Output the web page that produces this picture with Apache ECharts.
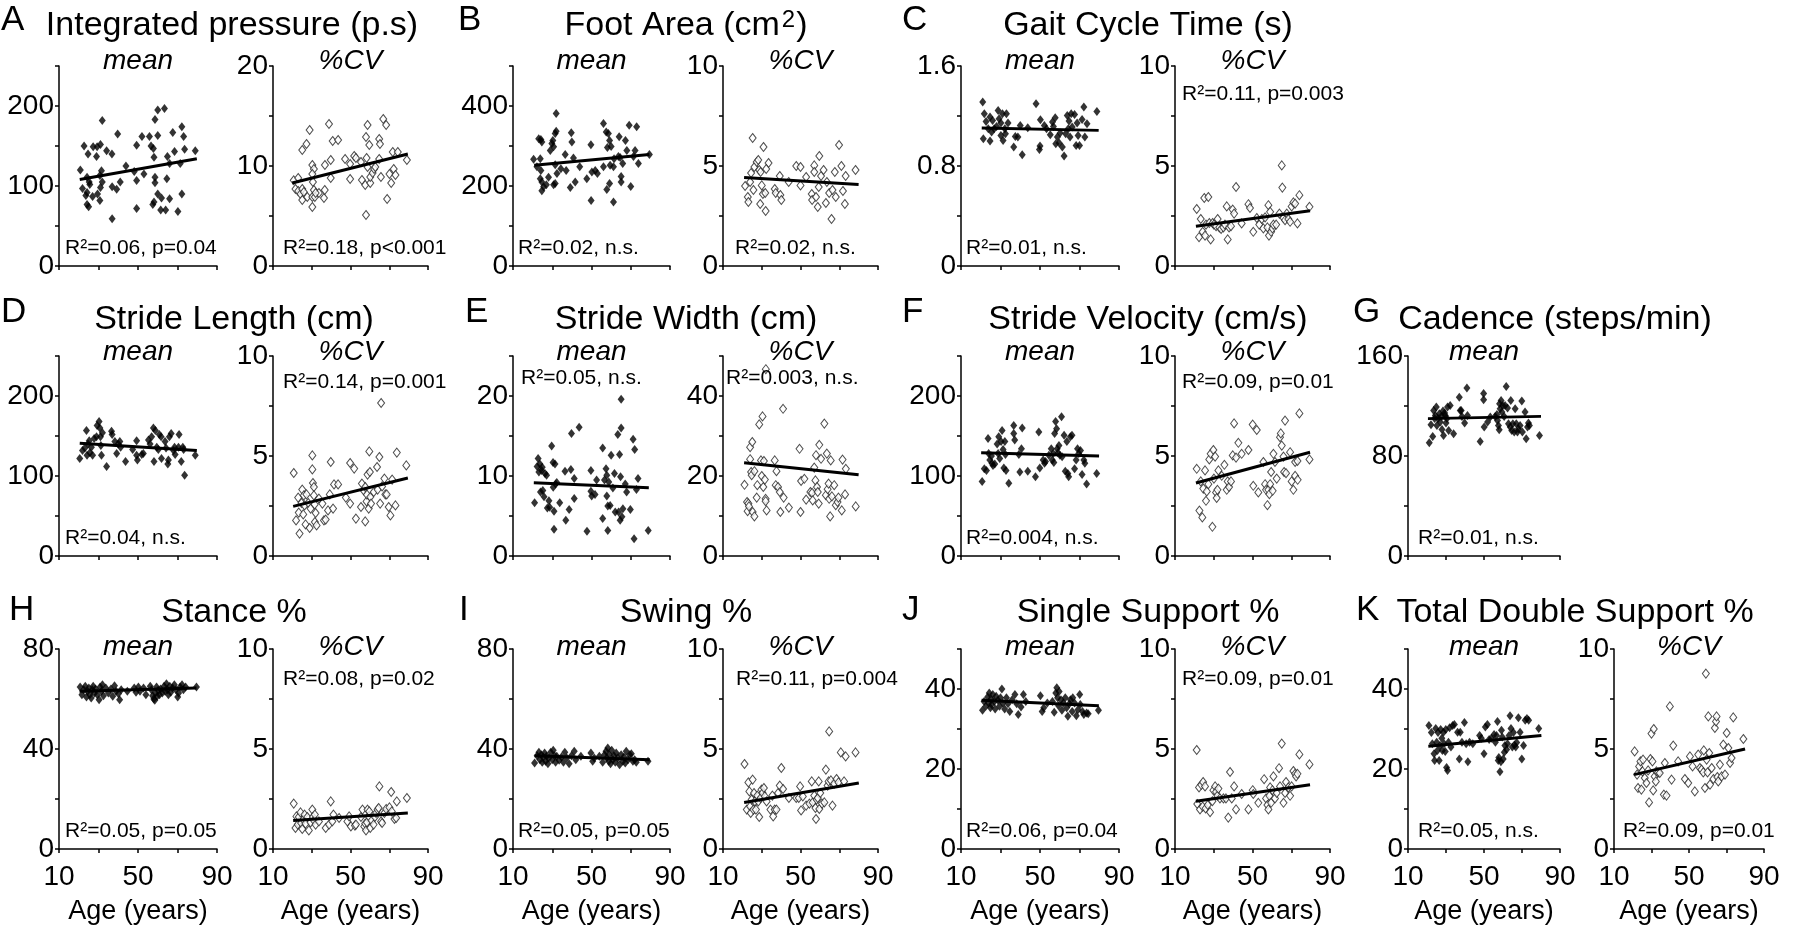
<!DOCTYPE html>
<html>
<head>
<meta charset="utf-8">
<script src="https://cdn.jsdelivr.net/npm/echarts@6/dist/echarts.min.js"></script>
<style>
html,body{margin:0;padding:0;background:#fff;}
#chart{width:1800px;height:939px;}
</style>
</head>
<body>
<div id="chart"></div>
<script>
// ---------------- DATA (age in years, value) ----------------
const xTickLabels = [10, 50, 90];

const A_mean = [[20.8,120],[22.7,150],[24.7,140],[27.3,149],[29.3,149],[31,152],[29,137],[31.9,182],[34.1,144],[36.8,140],[39.7,165],[31.5,119],[30.7,113],[24.2,111],[25.3,105],[21.9,97],[24.2,92],[25.6,102],[23.6,88],[27,87],[29.5,90],[31,98],[31.9,105],[24.2,77],[25,74],[30.7,82],[36.9,99],[39.2,96],[41,105],[36.9,59],[43.9,125],[48.1,118],[49.3,151],[49.3,107],[52,162],[53,115],[49.3,72],[55.8,162],[56.6,150],[57.8,147],[58.6,183],[60,195],[63.4,197],[60,163],[58.1,136],[58.6,111],[58.6,104],[60,90],[58.1,80],[57.5,77],[61.9,85],[61.5,70],[64,70],[64.6,109],[64.9,137],[66,128],[66,84],[67.6,167],[68.5,143],[70.2,68],[71.4,128],[72.2,174],[73.1,162],[72.2,90],[73.6,146],[79,144]];
const A_mean_fit = [[20.5,108],[79.8,134]];
const A_cv = [[20.7,8.57],[23,8.8],[21.6,7.7],[23,7.5],[24.2,7.2],[25.1,7.7],[25.9,7.4],[25.1,6.6],[27.7,6.9],[25.1,11.6],[27.3,12.2],[28.9,13.6],[30.3,10.1],[31.1,9.7],[30.3,9.2],[30.6,8.4],[31.1,7.6],[30.3,6.9],[31.6,6.9],[30.3,5.9],[33.7,7.3],[32,7.3],[36.3,6.8],[36.7,7.6],[36.8,10.1],[39.8,10.6],[39.8,8.8],[38.9,14.2],[40.8,12.5],[43.6,12.6],[47.2,10.7],[49.8,10.2],[49.8,8.7],[51.9,11],[52.8,10.8],[55.4,10.4],[55.9,8.6],[57.6,8.1],[58,12.9],[58.8,14.1],[58.3,10.8],[58.8,9.9],[59.7,12.1],[60.2,8.3],[58,5.1],[60.2,8.9],[61.4,9.3],[62.2,9.7],[62.8,9.9],[64.8,12.7],[65.2,12.2],[64.8,10.7],[65.7,8.9],[66.9,14.7],[68.4,14.1],[68.9,6.7],[70.1,9.2],[71,8.3],[71.8,11.4],[72.3,9.7],[73.2,9.1],[74.4,11.4],[79.1,10.6]];
const A_cv_fit = [[19.9,8.3],[79.6,11.2]];

const B_mean = [[20.5,267],[22.2,248],[23.1,318],[24.2,316],[24.7,310],[23.9,268],[24.2,239],[23.9,218],[24.7,210],[25.6,198],[24.7,188],[27,203],[28.1,222],[29,289],[29.8,306],[30.3,314],[30.7,298],[31.5,331],[32,337],[32,381],[31.5,206],[30.7,203],[31.5,253],[32.4,231],[34.4,243],[36.6,279],[37.1,239],[39.2,196],[39.7,333],[40,310],[40.8,270],[41.7,210],[44,248],[47.6,218],[49.7,303],[50.2,235],[51.9,239],[49.8,164],[53,231],[56.1,248],[56.1,356],[57.5,335],[58.6,331],[58.1,296],[59.2,314],[60,299],[57.8,191],[59.2,206],[59.5,252],[61.2,248],[61.5,268],[61.2,160],[63.7,274],[64.1,323],[64.6,271],[65.1,224],[65.1,210],[65.9,256],[67.3,314],[68,289],[69.2,352],[70,199],[71.4,274],[72.2,289],[73,348],[73.9,256],[79.5,279]];
const B_mean_fit = [[20.8,252],[79.5,279]];
const B_cv = [[21.4,4],[22.8,3.45],[23.1,3.2],[24,4.2],[24.5,4.65],[25.3,6.4],[25.7,3.8],[26.2,4.95],[27.4,5.2],[28.2,5.3],[28.7,4.8],[29.4,4.7],[29.2,3.1],[30,4.03],[30.6,3.6],[30.9,5.95],[31.8,3.65],[32,2.75],[33.5,5.15],[32.3,4.85],[36.7,3.85],[37.2,3.65],[39.3,4.5],[39.6,3.55],[40.1,3.3],[43.9,4.2],[47.8,5],[50,4.95],[50,4.03],[52.9,4.45],[55.8,3.6],[56,3.3],[57.1,5.03],[57.1,4.7],[58,3.45],[58.9,2.95],[59.4,3.95],[59.7,5.5],[60.6,4.5],[61.9,4.8],[63.1,3.15],[63.6,4.2],[64.8,3.65],[66,2.35],[66.5,3.8],[68.2,3.45],[67.7,4.7],[69.9,6.05],[71.1,5],[71.9,3.75],[72.9,3.1],[73.3,4.5],[78.4,4.8]];
const B_cv_fit = [[20.9,4.42],[80,4.07]];

const C_mean = [[21,1.312],[21.8,1.219],[21.3,1.019],[22.7,1.157],[23.8,1.099],[24.7,1.0],[24.7,1.192],[25.5,1.072],[26,1.165],[26.8,1.099],[28,1.117],[28.8,1.245],[29.3,1.179],[30.2,1.144],[30.2,1.045],[31,1.219],[31.3,1.005],[32.2,1.099],[32.5,1.059],[33,1.219],[33.8,1.144],[36.7,0.952],[37.5,1.037],[38.8,1.032],[40,1.125],[41,0.891],[43.8,1.107],[48,1.299],[49.7,0.933],[50.2,1.171],[50,0.96],[52.2,1.125],[53.3,1.099],[55.2,1.051],[56.3,1.152],[56.8,1.117],[57.7,1.187],[58,0.979],[58.8,1.032],[59.7,0.984],[60.2,1.064],[61.3,0.952],[62.2,0.88],[63,1.059],[63.8,1.205],[64.3,1.099],[64.7,1.16],[65.2,1.032],[65.8,1.219],[66.3,1.112],[67.5,1.213],[68.3,0.965],[68.8,1.144],[69.3,1.045],[70,0.965],[71.3,1.173],[72.2,1.272],[72.7,1.032],[73.8,1.139],[78.8,1.237]];
const C_mean_fit = [[20.5,1.104],[79.7,1.085]];
const C_cv = [[21.2,2.85],[22.4,1.44],[23.3,2.35],[24.3,1.71],[25.1,3.4],[25.5,1.52],[26,2.07],[27.2,3.45],[27.7,2.15],[28.4,1.33],[29.4,2.15],[30.1,2.07],[31.2,1.99],[32,2.35],[32.9,1.93],[33.8,1.85],[35,1.93],[35.8,2.07],[36.7,2.98],[37.2,1.33],[37.9,1.93],[38.9,1.99],[39.8,2.82],[40.5,2.62],[41.5,3.95],[44.4,2.13],[47.9,3.09],[48.7,2.9],[50.4,1.71],[52.2,2.4],[53.5,2.07],[54.8,2.35],[55.6,1.88],[56.5,2.43],[57.7,1.93],[58.2,3.04],[58.5,1.52],[59.1,2.71],[59.6,1.71],[60.3,1.88],[60.8,2.07],[62.2,2.07],[63.9,2.62],[65.1,5.03],[65.4,3.92],[66,2.4],[66.8,2.29],[67.7,2.62],[68.5,2.35],[69.4,2.21],[70.2,2.98],[71.1,3.18],[72,3.12],[73.2,2.13],[74.2,3.54],[79.4,2.96]];
const C_cv_fit = [[20.8,1.99],[79.7,2.76]];

const D_mean = [[20.5,122],[21.9,132],[23.1,135],[23.9,157],[24.2,126],[24.7,140],[25.3,144],[25.6,129],[26.4,136],[27,126],[27.8,147],[29,149],[29.3,163],[30.3,168],[30.7,160],[31,149],[31.2,138],[31.5,126],[32,154],[34.1,112],[36.6,156],[36.9,152],[38.3,143],[39.2,128],[40,140],[40.8,143],[41.2,136],[43.7,118],[47.3,133],[49.3,144],[49.3,126],[49.7,120],[51.9,127],[52.7,128],[55.3,145],[56.1,140],[56.9,149],[57.8,160],[58.1,118],[58.8,157],[59.5,136],[60.3,133],[60.8,152],[61.7,149],[61.9,122],[63.7,143],[64.2,135],[65.1,115],[65.4,120],[65.9,149],[66.8,153],[68,132],[68.5,136],[68.8,127],[70.5,136],[70.8,152],[71.9,118],[72.7,136],[73.1,133],[73.6,101],[79,126]];
const D_mean_fit = [[20.5,141],[79.8,132]];
const D_cv = [[20.7,4.15],[21.9,1.78],[23,2.92],[23.3,2.17],[23.7,1.12],[24.7,2.65],[25.1,3.32],[25.6,2.08],[25.9,3.03],[26.3,2.53],[26.8,1.58],[27.3,3.08],[28.2,2.65],[28.9,1.4],[29.4,2.37],[30.3,5.03],[30.3,4.33],[30.6,3.65],[31.1,3.45],[31.1,3.03],[31.5,2.58],[31.6,1.7],[32,2.15],[32.5,1.53],[33.7,2.87],[35.5,2.62],[36.3,1.78],[37.2,1.82],[38.4,2.28],[39.3,3.08],[39.8,4.7],[41,2.37],[41.5,3.58],[43.6,3.58],[47.6,2.92],[49.8,2.62],[49.8,4.65],[51.9,4.37],[52.8,1.87],[55.4,2.45],[55.9,3.62],[56.8,3.28],[57.6,1.73],[57.6,3.45],[58.3,2.73],[58.5,3.07],[58.8,4.07],[59.4,2.37],[59.7,5.23],[60,4.2],[60.2,2.95],[60.6,2.62],[62,3.2],[63.7,4.45],[64,3.32],[64.9,4.95],[65.3,2.62],[65.8,7.65],[66.3,3.48],[67.5,3.87],[68,3.08],[68.7,3.08],[69.7,2.45],[70.6,2.03],[71.5,3.82],[73.2,2.53],[73.9,5.17],[78.8,4.53]];
const D_cv_fit = [[20.4,2.48],[79.6,3.9]];

const E_mean = [[21,6.67],[22.3,11.2],[22.8,12.2],[23.2,10.5],[23.7,11.5],[24,8],[24.6,10.7],[24.9,11.1],[25.2,8.2],[25.8,7.4],[26.3,10.3],[27.1,10.1],[27.5,6.0],[28.3,6.9],[28.7,6.1],[29.7,13.75],[30.4,11.7],[30.5,8.6],[30.9,5.6],[30.9,3.33],[31.4,11.5],[31.7,9],[32.3,9.2],[33.8,6.67],[36.5,10.6],[36.9,4.46],[38.6,5.8],[39.5,10.8],[39.8,15.3],[41.2,9.7],[41.2,7.2],[43.7,16.1],[47.7,3.1],[49.7,10.7],[49.7,8.1],[50.1,7.5],[51.8,7.7],[52.6,9.5],[55.7,13.5],[55.7,4.7],[56.6,9.5],[57.4,10.9],[57.8,10.1],[57.8,7.5],[58.3,6.25],[58.3,3.2],[58.8,9.25],[59.5,6.3],[60,12.6],[60.9,8.5],[61.7,10.3],[62.1,5.5],[63.4,15.2],[63.8,5.5],[64.3,12.7],[64.6,4.46],[64.8,9.9],[65.1,16],[65.1,19.6],[65.5,4.9],[66,5.9],[67.2,9],[67.9,8],[69.8,5.8],[71.2,14.6],[71.7,2.17],[72,13.3],[72.9,8.3],[73.7,9.7],[78.9,3.2]];
const E_mean_fit = [[20.6,9.17],[79.2,8.54]];
const E_cv = [[21.1,17.8],[22.4,13.5],[22.7,11.2],[23.1,13.1],[23.4,12.4],[24,24.2],[24,27.2],[24.5,21],[24.8,20.2],[25.1,28.5],[25.3,11],[26.2,9.9],[26.2,21.2],[27.4,14.6],[27.7,17.7],[28.7,32.9],[29.6,23.9],[30,20],[30.4,34.9],[30.8,17.25],[31.1,23.75],[31.6,19.1],[32,14.3],[32,13.7],[32.5,11.4],[32.1,46.7],[36.7,23.9],[37.2,17.7],[37.6,21.2],[38.4,17.25],[39.3,16],[39.6,11],[41,36.8],[41.3,14.6],[44,12.1],[49.5,26.8],[50,11],[50.3,18.75],[52,19.3],[52.9,14.1],[55.1,16],[56,15.8],[56.3,13.9],[57.1,22.1],[57.7,18.9],[58,25.2],[58.5,17.25],[58.9,16],[59.4,13.1],[59.7,27.8],[60.6,24.3],[62.3,33.1],[63.1,15.2],[63.6,25.6],[64,16.7],[64.5,18.1],[64.8,14.3],[65.3,9.9],[65.6,23.9],[66.2,14.9],[67.4,17.7],[68.2,12.7],[69.1,13.5],[69.6,14.6],[71.3,11.4],[71.7,24.1],[73,15.4],[73.4,21.8],[78.5,12.4]];
const E_cv_fit = [[20.9,23.3],[80,20.3]];

const F_mean = [[20.7,93],[21.8,109],[22.9,107],[23.7,147],[24,128],[24.6,120],[25.4,125],[25.7,116],[26.2,113],[27.1,115],[28.3,140],[28.8,128],[29.1,149],[29.6,122],[30.3,143],[30.8,157],[31.3,133],[31.7,110],[32.2,143],[32.5,127],[32.8,107],[34.2,91],[36.7,163],[36.7,153],[37.2,145],[39.3,127],[39.8,105],[40.6,134],[41,160],[43.8,106],[47.7,99],[49.4,155],[49.9,110],[51.6,120],[52.3,116],[52.8,118],[54.5,126],[55.7,134],[56.2,120],[56.7,128],[57,117],[57.4,153],[57.9,168],[58.4,159],[58.7,134],[59.1,129],[59.6,138],[60.1,126],[60.9,174],[61.2,124],[62.2,151],[62.8,106],[63.6,143],[64.1,103],[64.5,99],[65.4,149],[66.2,151],[67.5,109],[68.3,120],[69,134],[69.6,128],[70.5,132],[71.3,102],[72.2,120],[72.7,116],[73.6,90],[78.7,103]];
const F_mean_fit = [[20.2,129],[79.9,125]];
const F_cv = [[21.2,4.36],[22.6,2.27],[24.1,1.93],[23.3,3.73],[24.6,3.37],[25.5,4.28],[26,2.76],[26.4,3.23],[27.2,3.59],[27.7,4.83],[28.4,5.11],[29.3,1.46],[29.8,5.3],[30.1,3.87],[30.7,4.97],[31.2,3.18],[31.5,2.9],[31.9,3.31],[32.4,4.28],[34.1,4.01],[35.5,4.56],[36.7,3.31],[37.2,3.73],[37.9,3.45],[38.9,3.73],[39.8,5.03],[40.5,6.63],[41.5,4.92],[42.7,5.66],[44.4,5.11],[47.9,5.3],[50.1,6.57],[50.4,3.51],[52.2,6.3],[53,3.18],[55.6,4.7],[56.5,3.59],[57,3.31],[57.7,2.54],[58.2,3.31],[58.7,3.09],[59.1,3.59],[59.6,4.2],[60.4,3.26],[60.8,5.11],[61.6,4.7],[62.5,3.87],[64.2,5.94],[64.6,6.13],[65.1,5.52],[66,4.97],[66.3,4.2],[66.8,6.77],[67.3,4.14],[69.4,5.19],[70.2,3.73],[71.1,3.31],[72,4.7],[72,4.01],[73.2,4.75],[73.3,3.81],[74.2,7.13],[79.4,4.83]];
const F_cv_fit = [[20.8,3.65],[79.7,5.19]];

const G_mean = [[21.2,90.7],[22.1,105],[23,95.7],[23.5,116.5],[24,110],[24.4,112.5],[24.9,119.2],[25.2,104.5],[25.8,110],[26.5,113.9],[27,107.2],[27.5,111.7],[27.9,101.3],[28.4,116],[28.7,96.5],[29.3,114.4],[29.6,112.5],[30,106.4],[30.5,110],[30.8,119.2],[31.4,100.5],[32.2,120.5],[34,97.9],[37,127],[37.5,116.5],[38,116.5],[38.4,111.7],[39.8,106.4],[41,134.4],[41.3,112.5],[48,91.7],[49.8,130],[49.8,125],[50.1,103.2],[51.9,107.2],[53.3,111.2],[55.9,111.7],[56.8,113.3],[57.1,108.5],[57.6,104.5],[58,101],[58.2,121.9],[58.5,117.9],[59,124.5],[59.4,115.2],[59.9,120.5],[60.6,111.7],[61.1,120.5],[61.7,135.7],[62.4,118.4],[62.9,105.9],[63.8,103.2],[64.1,124.5],[64.6,100.5],[65.2,105.9],[65.9,99.2],[66.4,117.9],[67,105.9],[67.6,99.2],[68.1,101.9],[69,104.5],[69.9,124],[70.2,99.2],[71.6,115.2],[72.2,93.9],[72.9,103.2],[73.4,106.4],[73.9,104.5],[79.2,96.5]];
const G_mean_fit = [[20.5,109.9],[80,111.7]];

const H_mean = [[20.7,64.8],[21.6,61.7],[22.5,63.7],[23.3,65.1],[23.9,60.8],[24.5,63.1],[25.1,64.4],[25.6,61.7],[26.3,60.4],[26.8,63.7],[27.3,65.1],[28,62.4],[28.5,64],[29.4,61.7],[30.3,59.7],[30.8,64.8],[31.5,63.1],[32,65.7],[32.5,61.3],[33.7,64.4],[35,62.4],[36.3,64],[37.2,61.1],[38.1,65.3],[38.9,63.1],[40.1,62.1],[40.7,59.7],[41.5,63.7],[44.6,63.1],[48.1,64.4],[49,62.7],[50.2,64.8],[51,63.1],[52.8,64.4],[54,61.7],[56.2,65.1],[56.8,63.7],[57.4,61.3],[58,60],[58.5,59.5],[58.8,62.4],[59.4,64.8],[59.7,61.1],[60.2,63.5],[60.9,61.7],[61.4,64],[62.3,62.4],[63.2,65.1],[63.7,63.1],[64.4,66.1],[64.9,63.7],[65.4,61.7],[66.1,65.1],[66.6,62.7],[67.5,64.4],[68.4,65.7],[69.2,63.7],[70.1,60.8],[70.6,62.4],[71.3,64.8],[72.3,65.7],[73,63.7],[74.1,64.8],[79.6,64.8]];
const H_mean_fit = [[20.4,63.1],[79.6,64.4]];
const H_cv = [[20.7,2.27],[21.6,1.05],[22.1,1.63],[22.8,1.22],[23.3,1.6],[24.2,1.83],[24.5,1.3],[25.1,1.0],[25.6,1.47],[26.3,1.72],[26.8,1.27],[27.7,1.6],[28.5,0.93],[29.4,1.33],[30.3,1.97],[30.6,1.6],[31.1,1.43],[31.6,1.72],[32,1.22],[33.7,1.38],[37.2,1.05],[38.9,1.22],[39.8,2.38],[40.6,1.38],[41.2,1.72],[44.1,1.55],[48.4,1.38],[49.3,1.63],[50.2,1.13],[52.3,1.17],[52.8,1.22],[55.4,1.6],[56.2,1.97],[57.1,1.13],[57.6,1.27],[58,0.93],[58.5,1.33],[58.8,1.97],[59.4,1.63],[59.7,1.88],[60.2,1.05],[60.9,1.43],[61.9,1.22],[62.6,1.6],[63.2,1.8],[64,1.97],[64.5,2.05],[64.9,3.13],[65.8,1.38],[66.3,1.3],[67.5,1.8],[68.4,2],[70.1,2.08],[71,2.85],[71.3,1.88],[72.7,1.5],[73.6,1.55],[73.9,2.38],[79.1,2.55]];
const H_cv_fit = [[20.4,1.43],[79.6,1.8]];

const I_mean = [[21,34.4],[22.3,37.3],[23.2,38.7],[23.7,35.7],[24.4,37.7],[24.9,34.7],[25.4,36.8],[26.1,38.4],[26.6,35.1],[27.1,37.1],[27.8,34.1],[28.3,36.4],[29.2,38.7],[30,35.7],[30.5,39.5],[31.2,37.3],[31.7,34.7],[32.3,37.1],[33.5,35.5],[34.7,36.8],[35.7,34.7],[36.4,38.7],[37.4,36.4],[38.6,34.1],[39.8,37.3],[41.2,39.1],[42,35.7],[44.6,37.1],[49.7,38.4],[50.6,35.1],[51.4,36.4],[54,37.1],[55.7,34.7],[56.6,37.7],[57.4,39.1],[57.8,36.4],[58.3,40.4],[58.8,35.1],[59.1,37.7],[59.7,34.1],[60.3,39.5],[60.9,35.7],[61.4,37.3],[62.1,34.7],[62.6,38.4],[63.4,36.4],[64.3,33.7],[65.1,37.7],[66,35.1],[66.5,36.8],[67.2,34.4],[67.7,39.1],[68.6,35.7],[69.5,37.7],[70.3,38.1],[71.1,35.1],[72,35.7],[72.8,34.7],[78.8,35.1]];
const I_mean_fit = [[21,37.3],[79.7,35.7]];
const I_cv = [[21.1,4.25],[22.3,1.97],[23.1,3.33],[23.6,2.88],[24,2.13],[24.3,1.8],[24.8,2.47],[25.3,3.47],[25.7,1.97],[26,2.8],[26.5,2.38],[27,1.97],[27.7,2.67],[28.2,2.38],[28.7,1.6],[29.4,2.55],[29.9,2.97],[30.4,2.8],[31.1,3.05],[31.6,2.63],[32.5,2.38],[34.5,1.97],[35.5,2.67],[35.9,1.63],[36.7,1.97],[37.6,1.97],[38.4,2.8],[39.3,3.17],[40.1,4.05],[41,3.0],[44,2.55],[47.8,2.55],[49.1,2.55],[49.8,3.13],[50.3,1.93],[51.2,2.63],[52.9,2.17],[54.6,2.27],[55.8,3.38],[56.3,2.33],[57.1,2.67],[57.7,2.05],[58,1.5],[58.3,2.47],[58.9,2.55],[59.4,3.38],[59.7,2.0],[60.2,2.8],[61.1,2.27],[62.3,2.33],[63.1,3.97],[64,3.17],[64.5,3.38],[64.8,5.88],[65.7,3.43],[66.5,2.17],[67.4,3.27],[68.6,3.5],[69.6,3.33],[70.8,4.83],[72.5,3.38],[73.3,4.63],[78.4,4.83]];
const I_cv_fit = [[20.9,2.33],[80.1,3.3]];

const J_mean = [[20.9,34.7],[21.7,36.9],[22.6,35.7],[23.5,38],[24,36.5],[24.3,39],[24.9,35.3],[25.2,37.5],[25.5,36.1],[26.1,38.6],[26.9,36.9],[27.3,35],[27.8,38.2],[28.7,37.2],[29.5,35.7],[30,37.8],[30.7,40],[31.2,36.5],[32.1,35],[33,37.8],[33.8,36.3],[34.7,34.4],[35.9,37.3],[37.3,38.6],[38.2,36.3],[39,33.6],[40.4,35.5],[41.6,38.6],[42.8,36.9],[50.2,38.3],[51.1,34.4],[51.9,35.3],[53.7,36.5],[56.3,36.9],[57.2,34.2],[58,39],[58.5,40.3],[58.9,37.8],[59.4,35.8],[59.7,39.4],[60.6,37.3],[61.1,34.7],[61.8,36.5],[62.8,37.8],[63.5,35.3],[64.1,33.2],[64.9,36.3],[65.4,37.3],[66.3,34.4],[66.6,37.8],[67.5,36.5],[68.4,33.3],[69.2,34.8],[70.1,38.6],[70.4,36.1],[71.5,34.4],[72.2,33.6],[73.6,34],[74.4,33.8],[79.6,34.7]];
const J_mean_fit = [[20.4,37.2],[79.8,35.8]];
const J_cv = [[21.2,4.95],[22.4,3.08],[23.6,3.21],[24.5,3.35],[25.5,3.13],[21.5,2.25],[22.9,1.98],[24.3,2.12],[25.8,2.03],[26.9,2.2],[28.1,1.84],[29.3,2.39],[29.8,2.94],[30.7,3.13],[31.2,2.86],[31.9,2.66],[32.4,3.02],[33.2,2.53],[35,2.53],[36.3,2.53],[37.5,1.57],[38.4,3.85],[39.3,2.53],[40.5,3.13],[41.5,1.98],[44.4,2.75],[47.9,1.98],[50.1,2.94],[50.4,2.75],[53,2.31],[56,3.49],[57,2.53],[57.7,2.2],[58.2,1.98],[58.7,2.66],[59.1,3.08],[59.6,2.31],[60.3,2.94],[60.8,3.63],[61.6,2.53],[62.5,2.8],[63.7,4.04],[64.2,3.13],[65.1,5.27],[66,2.31],[66.8,2.8],[67.3,3.35],[68.5,3.08],[69.4,2.66],[70.2,3.13],[71.1,3.9],[72,3.76],[72.5,3.63],[73.2,3.76],[74.2,4.73],[79.4,4.23]];
const J_cv_fit = [[20.8,2.39],[79.7,3.21]];

const K_mean = [[21,30.9],[22.3,29.1],[22.8,26.3],[23.7,23.8],[24,22.1],[24.6,30.1],[25.1,26.7],[25.5,24.6],[25.8,29.1],[26.4,22.1],[26.9,25.9],[27.2,29.9],[27.8,27.7],[28.1,24.6],[28.7,29.2],[29,26.3],[29.6,24.4],[29.9,29.9],[30.3,20.4],[30.8,19.6],[31.3,26.7],[31.9,30.3],[32.6,25.5],[33.5,30.9],[34.4,31.1],[36.1,29.2],[37,22.5],[37.5,29.2],[38.4,26.7],[39.7,31.6],[40.6,26.3],[41.5,21.8],[42.4,26.7],[44.1,26.3],[47.7,28.4],[48.6,27.7],[50,23.8],[50.7,30.5],[51.8,31.1],[52.7,27.4],[53.9,27.7],[55.3,28.6],[56,26.7],[56.6,28.4],[57.1,31.9],[57.5,22.1],[57.8,22.9],[58.4,19.3],[58.9,21.8],[59.2,29.7],[59.6,28],[60.1,22.5],[60.7,24.2],[61,25.9],[61.9,24.9],[62.4,26.3],[63.2,28.4],[63.7,33.3],[64.2,30.1],[64.9,25.5],[65.5,29.1],[66,26],[66.7,25.5],[67.2,26.6],[68.1,32.8],[69,29.2],[69.9,22.5],[70.8,25.9],[71.7,32.2],[72.6,32.6],[73.5,32.2],[78.8,30.1]];
const K_mean_fit = [[20.7,25.7],[80.2,28.4]];
const K_cv = [[21,4.88],[22.3,3.72],[22.8,3.05],[23.4,4.13],[24.1,4.38],[24.6,2.97],[25.2,3.88],[25.5,4.47],[26.4,3.55],[27.3,3.3],[28.2,3.93],[28.7,2.33],[29.4,4.5],[30,5.77],[30.5,4.38],[30.9,2.93],[31.2,6],[31.7,3.63],[32.3,3.38],[32.6,3.88],[33.5,3.83],[34.4,3.8],[36.6,2.72],[37.1,4.3],[38,2.67],[39.8,7.13],[40.7,3.47],[41.6,5.17],[44.2,4.38],[47.8,3.5],[49.6,3.3],[50.5,4.63],[51.9,4.13],[53.1,2.88],[54.9,4.72],[55.8,4.05],[56.7,3.97],[57.6,3.83],[57.9,4.93],[58.5,3.05],[59,8.77],[59.4,4.47],[59.9,3.83],[60.3,6.63],[60.8,4.8],[61.2,3.22],[62.1,4.05],[63,3.5],[63.8,6.05],[64.4,6.38],[64.7,6.63],[65.1,3.6],[65.6,3.38],[66.5,4.22],[67.4,3.63],[68.3,5.22],[69.2,3.72],[70.1,5.8],[71,5.05],[71.9,4.3],[72.7,4.55],[73.6,6.58],[79,5.5]];
const K_cv_fit = [[20.7,3.72],[79.9,5.0]];

// ---------------- LAYOUT ----------------
const FONT = '"Liberation Sans", Arial, Helvetica, sans-serif';
const cols = [[59,158],[273,155],[513,157],[723,155],[961,158],[1175,155],[1408,152],[1614,150]];
const rows = [[66,200],[356,200],[649,200]];

const panels = [
  {d:A_mean, fit:A_mean_fit, c:0, r:0, max:250, step:50, cv:false, note:'R²=0.06, p=0.04', nx:65, ny:248},
  {d:A_cv, fit:A_cv_fit, c:1, r:0, max:20, step:5, cv:true, note:'R²=0.18, p<0.001', nx:283, ny:248},
  {d:B_mean, fit:B_mean_fit, c:2, r:0, max:500, step:100, cv:false, note:'R²=0.02, n.s.', nx:518, ny:248},
  {d:B_cv, fit:B_cv_fit, c:3, r:0, max:10, step:2.5, cv:true, note:'R²=0.02, n.s.', nx:735, ny:248},
  {d:C_mean, fit:C_mean_fit, c:4, r:0, max:1.6, step:0.4, cv:false, note:'R²=0.01, n.s.', nx:966, ny:248},
  {d:C_cv, fit:C_cv_fit, c:5, r:0, max:10, step:2.5, cv:true, note:'R²=0.11, p=0.003', nx:1182, ny:94},
  {d:D_mean, fit:D_mean_fit, c:0, r:1, max:250, step:50, cv:false, note:'R²=0.04, n.s.', nx:65, ny:538},
  {d:D_cv, fit:D_cv_fit, c:1, r:1, max:10, step:2.5, cv:true, note:'R²=0.14, p=0.001', nx:283, ny:382},
  {d:E_mean, fit:E_mean_fit, c:2, r:1, max:25, step:5, cv:false, note:'R²=0.05, n.s.', nx:521, ny:378},
  {d:E_cv, fit:E_cv_fit, c:3, r:1, max:50, step:10, cv:true, note:'R²=0.003, n.s.', nx:726, ny:378},
  {d:F_mean, fit:F_mean_fit, c:4, r:1, max:250, step:50, cv:false, note:'R²=0.004, n.s.', nx:966, ny:538},
  {d:F_cv, fit:F_cv_fit, c:5, r:1, max:10, step:2.5, cv:true, note:'R²=0.09, p=0.01', nx:1182, ny:382},
  {d:G_mean, fit:G_mean_fit, c:6, r:1, max:160, step:40, cv:false, note:'R²=0.01, n.s.', nx:1418, ny:538},
  {d:H_mean, fit:H_mean_fit, c:0, r:2, max:80, step:20, cv:false, note:'R²=0.05, p=0.05', nx:65, ny:831},
  {d:H_cv, fit:H_cv_fit, c:1, r:2, max:10, step:2.5, cv:true, note:'R²=0.08, p=0.02', nx:283, ny:679},
  {d:I_mean, fit:I_mean_fit, c:2, r:2, max:80, step:20, cv:false, note:'R²=0.05, p=0.05', nx:518, ny:831},
  {d:I_cv, fit:I_cv_fit, c:3, r:2, max:10, step:2.5, cv:true, note:'R²=0.11, p=0.004', nx:736, ny:679},
  {d:J_mean, fit:J_mean_fit, c:4, r:2, max:50, step:10, cv:false, note:'R²=0.06, p=0.04', nx:966, ny:831},
  {d:J_cv, fit:J_cv_fit, c:5, r:2, max:10, step:2.5, cv:true, note:'R²=0.09, p=0.01', nx:1182, ny:679},
  {d:K_mean, fit:K_mean_fit, c:6, r:2, max:50, step:10, cv:false, note:'R²=0.05, n.s.', nx:1418, ny:831},
  {d:K_cv, fit:K_cv_fit, c:7, r:2, max:10, step:2.5, cv:true, note:'R²=0.09, p=0.01', nx:1623, ny:831}
];

const titles = [
  {t:'Integrated pressure (p.s)', x:232, y:26},
  {t:'Foot Area (cm{s|2})', x:686, y:26},
  {t:'Gait Cycle Time (s)', x:1148, y:26},
  {t:'Stride Length (cm)', x:234, y:320},
  {t:'Stride Width (cm)', x:686, y:320},
  {t:'Stride Velocity (cm/s)', x:1148, y:320},
  {t:'Cadence (steps/min)', x:1555, y:320},
  {t:'Stance %', x:234, y:613},
  {t:'Swing %', x:686, y:613},
  {t:'Single Support %', x:1148, y:613},
  {t:'Total Double Support %', x:1575, y:613}
];
const letters = [
  {t:'A', x:1, y:20},{t:'B', x:458, y:20},{t:'C', x:902, y:20},
  {t:'D', x:1, y:312},{t:'E', x:465, y:312},{t:'F', x:902, y:312},{t:'G', x:1353, y:312},
  {t:'H', x:9, y:610},{t:'I', x:459, y:610},{t:'J', x:902, y:610},{t:'K', x:1356, y:610}
];
const subY = [61, 352, 647];

const option = {animation:false, backgroundColor:'#fff', grid:[], xAxis:[], yAxis:[], series:[], graphic:{elements:[]}};
const axisLineStyle = {color:'#000', width:1.5};

panels.forEach((p, i) => {
  const [left, width] = cols[p.c];
  const [top, height] = rows[p.r];
  option.grid.push({left, top, width, height, containLabel:false});
  option.xAxis.push({
    type:'value', gridIndex:i, min:10, max:90, interval:20,
    axisLine:{show:true, onZero:false, lineStyle:axisLineStyle},
    axisTick:{show:true, length:4, lineStyle:axisLineStyle},
    splitLine:{show:false},
    axisLabel:{show:p.r===2, margin:14, fontSize:28, fontFamily:FONT, color:'#000',
      formatter:v => xTickLabels.includes(v) ? String(v) : ''}
  });
  const st = p.step;
  option.yAxis.push({
    type:'value', gridIndex:i, min:0, max:p.max, interval:st,
    axisLine:{show:true, onZero:false, lineStyle:axisLineStyle},
    axisTick:{show:true, length:4, lineStyle:axisLineStyle},
    splitLine:{show:false},
    axisLabel:{show:true, margin:5, fontSize:28, fontFamily:FONT, color:'#000',
      formatter:v => { const k = v/(2*st); return Math.abs(k-Math.round(k))<1e-6 ? String(+v.toFixed(2)) : ''; }}
  });
  option.series.push({
    type:'scatter', xAxisIndex:i, yAxisIndex:i, data:p.d, silent:true, z:2,
    symbol:'diamond', symbolSize:[7,9],
    itemStyle: p.cv ? {color:'#fff', borderColor:'#222', borderWidth:1} : {color:'#000'}
  });
  option.series.push({
    type:'line', xAxisIndex:i, yAxisIndex:i, data:p.fit, silent:true, z:3,
    symbol:'none', showSymbol:false, lineStyle:{color:'#000', width:3}
  });
  option.graphic.elements.push({type:'text', z:100, x:left+width/2, y:subY[p.r], silent:true,
    style:{text:p.cv?'%CV':'mean', font:'italic 28px '+FONT, fill:'#000', textAlign:'center', textVerticalAlign:'middle'}});
  option.graphic.elements.push({type:'text', z:100, x:p.nx, y:p.ny, silent:true,
    style:{text:p.note, font:'21px '+FONT, fill:'#000', textAlign:'left', textVerticalAlign:'middle'}});
  if (p.r === 2) {
    option.graphic.elements.push({type:'text', z:100, x:left+width/2, y:912, silent:true,
      style:{text:'Age (years)', font:'27px '+FONT, fill:'#000', textAlign:'center', textVerticalAlign:'middle'}});
  }
});

titles.forEach(t => {
  option.graphic.elements.push({type:'text', z:100, x:t.x, y:t.y, silent:true,
    style:{text:t.t, font:'34px '+FONT, fill:'#000', textAlign:'center', textVerticalAlign:'middle',
      rich:{s:{font:'24px '+FONT, fill:'#000', verticalAlign:'top', padding:[0,1,12,2]}}}});
});
letters.forEach(t => {
  option.graphic.elements.push({type:'text', z:100, x:t.x, y:t.y, silent:true,
    style:{text:t.t, font:'35px '+FONT, fill:'#000', textAlign:'left', textVerticalAlign:'middle'}});
});

const chart = echarts.init(document.getElementById('chart'), null, {renderer:'canvas'});
chart.setOption(option);
</script>
</body>
</html>
